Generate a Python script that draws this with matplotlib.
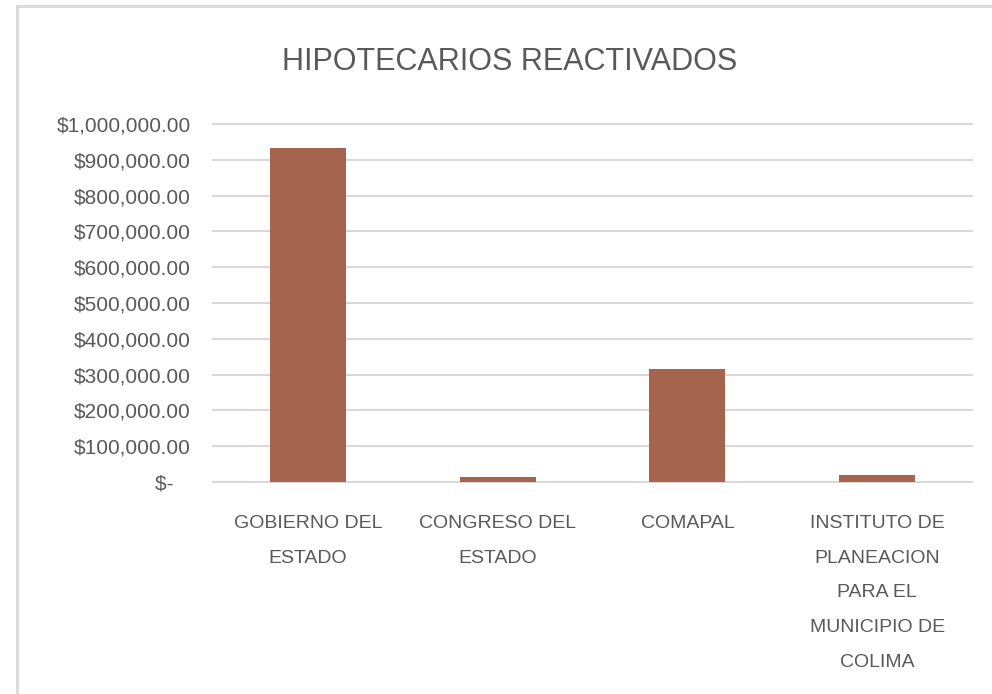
import matplotlib
matplotlib.use("Agg")
import matplotlib.pyplot as plt
from matplotlib.ticker import FuncFormatter, MultipleLocator
from matplotlib.lines import Line2D
import numpy as np

# %% Data
categories = [
    "GOBIERNO DEL\nESTADO",
    "CONGRESO DEL\nESTADO",
    "COMAPAL",
    "INSTITUTO DE\nPLANEACION\nPARA EL\nMUNICIPIO DE\nCOLIMA",
]
values = [933000, 13000, 315500, 18500]

title = "HIPOTECARIOS REACTIVADOS"

# %% Style
plt.rcParams["font.family"] = ["Liberation Sans", "DejaVu Sans"]
text_col = "#595959"
bar_col = "#A5644E"
grid_col = "#D9D9D9"


def money(v, pos):
    # accounting style: zero shown as a dash, padded like Excel
    if v == 0:
        return "$-   "
    return "${:,.2f}".format(v)


fig = plt.figure(figsize=(9.92, 6.94), dpi=100)
ax = fig.add_axes([213 / 992, 1 - 482 / 694, (972 - 213) / 992, (482 - 124) / 694])

x = np.arange(len(categories))
ax.bar(x, values, width=0.4, color=bar_col, zorder=3)

ax.set_xlim(-0.5, len(categories) - 0.5)
ax.set_ylim(0, 1000000)
ax.yaxis.set_major_locator(MultipleLocator(100000))
ax.yaxis.set_major_formatter(FuncFormatter(money))
ax.grid(axis="y", color=grid_col, linewidth=1.5, zorder=0)
for gl in ax.get_ygridlines():
    gl.set_clip_on(False)

ax.set_xticks(x)
ax.set_xticklabels(categories, linespacing=2.35)
ax.tick_params(axis="both", length=0, colors=text_col)
ax.tick_params(axis="x", pad=24, labelsize=14)
ax.tick_params(axis="y", pad=16, labelsize=15)
for s in ax.spines.values():
    s.set_visible(False)

fig.text(510 / 992, 1 - 62 / 694, title, ha="center", va="center",
         fontsize=22, color=text_col)

# chart frame (light gray border, cropped on right/bottom)
fig.add_artist(Line2D([17 / 992, 1], [1 - 6 / 694, 1 - 6 / 694],
                      transform=fig.transFigure, color="#D9D9D9", lw=2))
fig.add_artist(Line2D([17 / 992, 17 / 992], [0, 1 - 6 / 694],
                      transform=fig.transFigure, color="#D9D9D9", lw=2))

fig.savefig("out.png", dpi=100)
